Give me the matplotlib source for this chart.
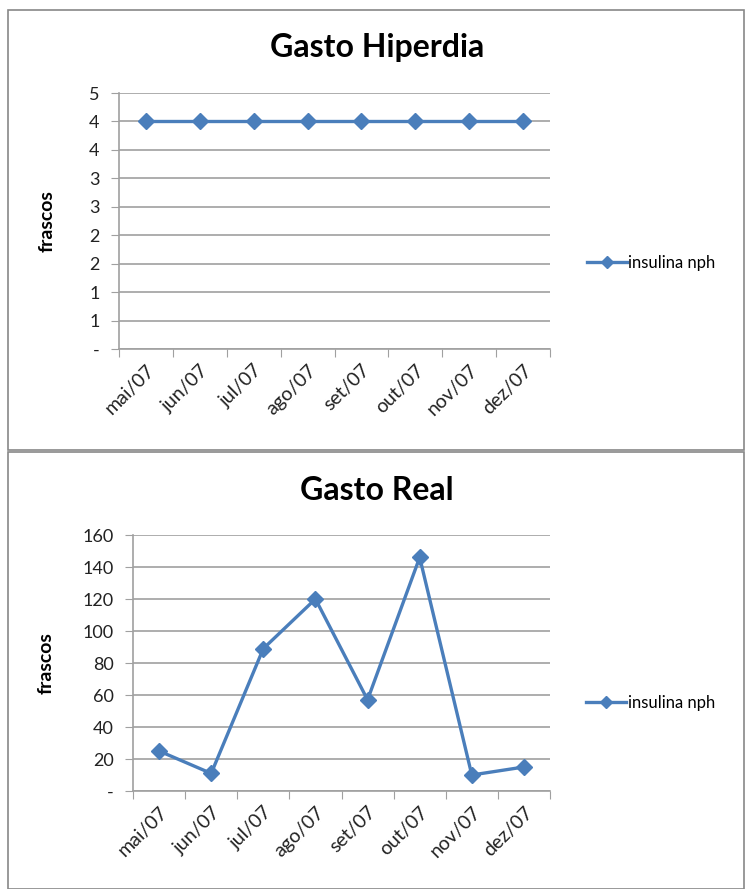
import matplotlib.pyplot as plt
import matplotlib.patches as mpatches
import numpy as np

plt.rcParams['font.family'] = ['Lato', 'DejaVu Sans']

meses = ['mai/07', 'jun/07', 'jul/07', 'ago/07', 'set/07', 'out/07', 'nov/07', 'dez/07']
hiperdia = [4, 4, 4, 4, 4, 4, 4, 4]
real = [25, 11, 89, 120, 57, 146, 10, 15]
hiperdia_ticks = np.arange(0, 5.0, 0.5)
real_ticks = np.arange(0, 161, 20)

AZUL = '#4A7EBB'
GRADE = '#a0a0a0'


def excel_fmt(v, pos=None):
    # formato contábil do Excel: zero vira "-", sem casas decimais
    if abs(v) < 1e-9:
        return '-'
    return '{:d}'.format(int(np.floor(v + 0.5)))


def desenha(ax, valores, ticks, ylim):
    x = np.arange(len(meses))
    ax.plot(x, valores, color=AZUL, lw=2.4, marker='D', ms=8, label='insulina nph')
    ax.set_xlim(-0.5, len(meses) - 0.5)
    ax.set_ylim(*ylim)
    ax.set_yticks(ticks)
    ax.yaxis.set_major_formatter(plt.FuncFormatter(excel_fmt))
    ax.set_xticks(np.arange(len(meses) + 1) - 0.5)
    ax.set_xticklabels([])
    ax.set_xticks(x, minor=True)
    ax.set_xticklabels(meses, minor=True, rotation=45, ha='right',
                       rotation_mode='anchor', fontsize=14, color='#222222')
    ax.tick_params(axis='x', which='minor', length=0, pad=9)
    ax.tick_params(axis='x', which='major', length=6, color=GRADE, direction='out')
    ax.tick_params(axis='y', length=6, color=GRADE, labelsize=13, labelcolor='#222222', pad=8)
    ax.grid(axis='y', color=GRADE, lw=1.2)
    ax.set_axisbelow(True)
    for s in ['top', 'right']:
        ax.spines[s].set_visible(False)
    for s in ['left', 'bottom']:
        ax.spines[s].set_color(GRADE)
        ax.spines[s].set_linewidth(1.2)
    ax.set_ylabel('frascos', fontsize=14, fontweight='bold')
    ax.legend(loc='center left', frameon=False, fontsize=12, handlelength=2.4,
              handletextpad=0.1, markerscale=0.8)


fig = plt.figure(figsize=(7.45, 8.89), dpi=100)

# molduras dos dois gráficos
fig.patches.append(mpatches.Rectangle((8 / 745, 1 - 450 / 889), 736 / 745, 440 / 889,
                                      transform=fig.transFigure, fill=False,
                                      edgecolor='#888888', lw=1.2))
fig.patches.append(mpatches.Rectangle((8 / 745, 0.0), 736 / 745, 437 / 889,
                                      transform=fig.transFigure, fill=False,
                                      edgecolor='#888888', lw=1.2))

ax1 = fig.add_axes([119 / 745, 1 - 349 / 889, 431 / 745, 256 / 889])
desenha(ax1, hiperdia, hiperdia_ticks, (0, 4.5))
ax1.yaxis.set_label_coords(-0.148, 0.5)
ax1.get_legend().set_bbox_to_anchor((1.05, 1 - (263 - 93) / 256))
fig.text(377 / 745, 1 - 48 / 889, 'Gasto Hiperdia', ha='center', va='center',
         fontsize=23, fontweight='bold')

ax2 = fig.add_axes([133 / 745, 1 - 791 / 889, 417 / 745, 256 / 889])
desenha(ax2, real, real_ticks, (0, 160))
ax2.yaxis.set_label_coords(-0.187, 0.5)
ax2.get_legend().set_bbox_to_anchor((1.05, 1 - (703 - 535) / 256))
fig.text(377 / 745, 1 - 490 / 889, 'Gasto Real', ha='center', va='center',
         fontsize=23, fontweight='bold')

fig.savefig('out.png', dpi=100)
